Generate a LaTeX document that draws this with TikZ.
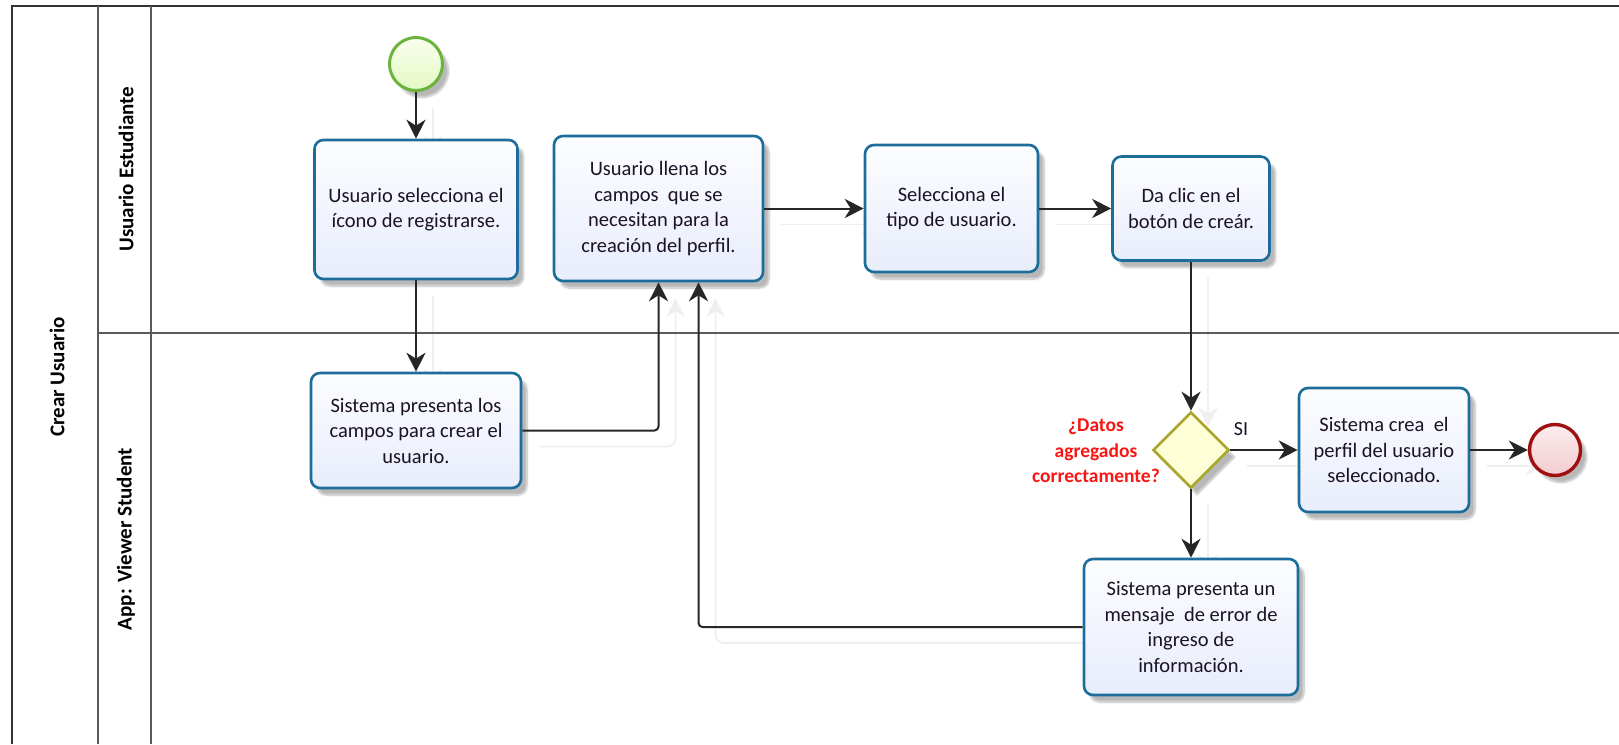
\documentclass[tikz,border=0pt]{standalone}
\usepackage{fontspec}
\setmainfont{Carlito}
\usetikzlibrary{arrows.meta,shapes.geometric,shadows.blur,backgrounds,calc}

\definecolor{taskline}{RGB}{28,108,156}
\definecolor{tasktop}{RGB}{252,253,255}
\definecolor{taskbot}{RGB}{232,237,251}
\definecolor{startline}{RGB}{108,179,62}
\definecolor{starttop}{RGB}{250,255,238}
\definecolor{startbot}{RGB}{228,248,196}
\definecolor{endline}{RGB}{160,16,16}
\definecolor{endtop}{RGB}{252,236,238}
\definecolor{endbot}{RGB}{242,204,208}
\definecolor{gateline}{RGB}{170,168,44}
\definecolor{gatefill}{RGB}{255,255,215}
\definecolor{bodytext}{RGB}{28,18,36}
\definecolor{poolline}{RGB}{90,90,90}
\definecolor{ghostline}{RGB}{239,239,239}

\begin{document}
\begin{tikzpicture}[x=1pt,y=-1pt,
  softshadow/.style={blur shadow={shadow xshift=6pt,shadow yshift=-7pt,shadow blur steps=10,shadow opacity=28}},
  task/.style={draw=taskline,line width=2.6pt,rounded corners=9pt,align=center,
    text=bodytext,font=\fontsize{20.5}{25.5}\selectfont,inner sep=0pt,
    top color=tasktop,bottom color=taskbot,softshadow},
  startev/.style={circle,draw=startline,line width=3pt,minimum size=53pt,inner sep=0pt,
    top color=starttop,bottom color=startbot,softshadow},
  endev/.style={circle,draw=endline,line width=3.4pt,minimum size=51pt,inner sep=0pt,
    top color=endtop,bottom color=endbot,softshadow},
  gate/.style={diamond,aspect=1,draw=gateline,line width=2.6pt,minimum width=76pt,
    minimum height=76pt,inner sep=0pt,fill=gatefill,softshadow},
  conn/.style={draw=black!85,line width=2pt,rounded corners=4pt,
    -{Stealth[length=19pt,width=19pt,inset=6pt]}},
  ghost/.style={draw=ghostline,line width=1.8pt,rounded corners=8pt,
    -{Stealth[length=19pt,width=19pt,inset=6pt]}},
  pool/.style={draw=poolline,line width=2pt},
  lanelabel/.style={rotate=90,font=\bfseries\fontsize{21}{25}\selectfont,text=black},
  gatelabel/.style={align=center,text={rgb,255:red,250;green,20;blue,20},
    font=\bfseries\fontsize{19.5}{25.5}\selectfont},
  flowlabel/.style={text=bodytext,font=\fontsize{20}{24}\selectfont}]

\useasboundingbox (0,0) rectangle (1619,744);

% pool and lanes
\draw[pool,draw=black!80] (12,744) -- (12,6) -- (1619,6);
\draw[pool] (98,6) -- (98,744);
\draw[pool] (151,6) -- (151,744);
\draw[pool] (98,333) -- (1619,333);
\node[lanelabel] (poolname) at (57,377) {Crear Usuario};
\node[lanelabel] (lane1) at (126,169) {Usuario Estudiante};
\node[lanelabel] (lane2) at (126,539) {App: Viewer Student};

% events, tasks and gateway
\node[startev] (start) at (416,64) {};
\node[task,minimum width=203pt,minimum height=139pt] (b1) at (416,209.5)
  {Usuario selecciona el\\ícono de registrarse.};
\node[task,minimum width=209pt,minimum height=145pt] (b2) at (658.5,208.5)
  {Usuario llena los\\campos\ \ que se\\necesitan para la\\creación del perfil.};
\node[task,minimum width=173pt,minimum height=127pt] (b3) at (951.5,208.5)
  {Selecciona el\\tipo de usuario.};
\node[task,minimum width=157pt,minimum height=104pt] (b4) at (1191,208.5)
  {Da clic en el\\botón de creár.};
\node[task,minimum width=210pt,minimum height=115pt] (b5) at (416,430.5)
  {Sistema presenta los\\campos para crear el\\usuario.};
\node[gate] (gw) at (1191,450) {};
\node[task,minimum width=170pt,minimum height=124pt] (b6) at (1384,450)
  {Sistema crea\ \ el\\perfil del usuario\\seleccionado.};
\node[endev] (end) at (1555,450) {};
\node[task,minimum width=214pt,minimum height=136pt] (b7) at (1191,627)
  {Sistema presenta un\\mensaje\ \ de error de\\ingreso de\\información.};

\node[gatelabel] (gwq) at (1096,451) {¿Datos\\agregados\\correctamente?};
\node[flowlabel] (si) at (1241,429) {SI};

% faint offset copies of the flows, behind everything
\begin{scope}[on background layer]
  \draw[ghost] ($(start.south)+(17,16)$) -- ($(b1.north)+(17,16)$);
  \draw[ghost] ($(b1.south)+(17,16)$) -- ($(b5.north)+(17,16)$);
  \draw[ghost] ($(b5.east)+(17,16)$) -| ($(b2.south)+(17,16)$);
  \draw[ghost] ($(b7.west)+(17,16)$) -| ($(b2.south)+(57,16)$);
  \draw[ghost] ($(b2.east)+(17,16)$) -- ($(b3.west)+(17,16)$);
  \draw[ghost] ($(b3.east)+(17,16)$) -- ($(b4.west)+(17,16)$);
  \draw[ghost] ($(b4.south)+(17,16)$) -- ($(gw.north)+(17,16)$);
  \draw[ghost] ($(gw.east)+(17,16)$) -- ($(b6.west)+(17,16)$);
  \draw[ghost] ($(b6.east)+(17,16)$) -- ($(end.west)+(17,16)$);
  \draw[ghost] ($(gw.south)+(17,16)$) -- ($(b7.north)+(17,16)$);
\end{scope}

% sequence flows
\draw[conn] (start) -- (b1);
\draw[conn] (b1) -- (b5);
\draw[conn] (b5.east) -| (b2.south);
\draw[conn] (b7.west) -| ($(b2.south)+(40,0)$);
\draw[conn] (b2) -- (b3);
\draw[conn] (b3) -- (b4);
\draw[conn] (b4) -- (gw);
\draw[conn] (gw) -- (b6);
\draw[conn] (b6) -- (end);
\draw[conn] (gw) -- (b7);
\end{tikzpicture}
\end{document}
